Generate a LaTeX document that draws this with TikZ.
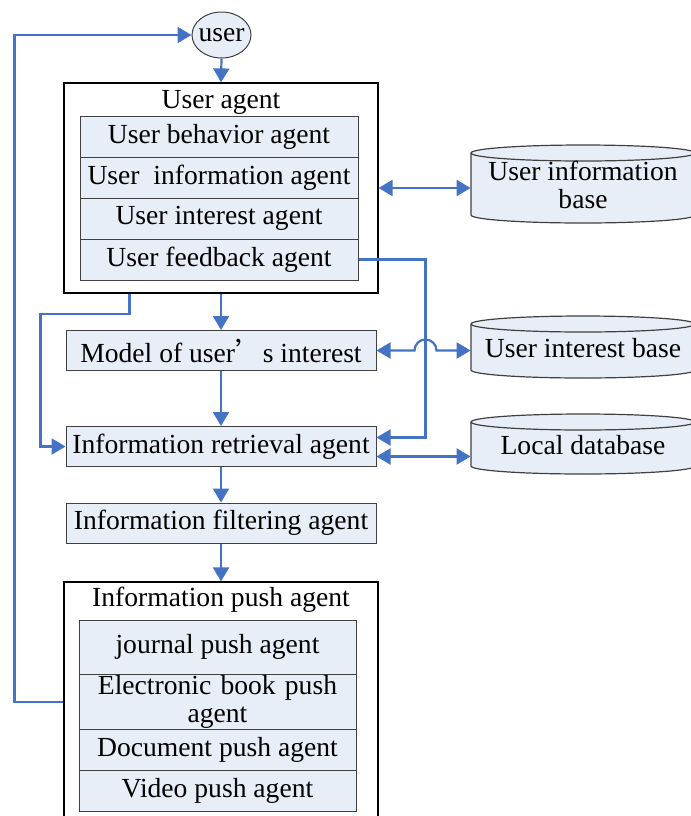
\documentclass[tikz,border=0pt]{standalone}
\usepackage{fontspec}
\setmainfont{Liberation Serif}
\newfontfamily\cjk{Noto Sans CJK SC}
\usetikzlibrary{shapes.geometric,arrows.meta}
\definecolor{linkblue}{RGB}{68,114,196}
\definecolor{boxfill}{RGB}{232,238,247}
\definecolor{boxline}{RGB}{64,64,64}
\tikzset{
  agent/.style={draw=boxline,fill=boxfill,line width=0.5pt,inner sep=0pt,minimum width=155pt,minimum height=20pt,align=center},
  subagent/.style={agent,minimum width=139pt,minimum height=20.5pt},
  frame/.style={draw=black,fill=white,line width=0.6pt,inner sep=0pt,minimum width=157pt},
  base/.style={inner sep=0pt,minimum width=112pt,align=center},
  link/.style={draw=linkblue,line width=1.1pt,>={Triangle[length=7pt,width=8pt]}},
}

\begin{document}
\begin{tikzpicture}[x=0.5pt,y=0.5pt]
\tikzstyle{every node}+=[font=\fontsize{13.8}{14}\selectfont]
\useasboundingbox (0,0) rectangle (691,-816);
\clip (0,0) rectangle (691,-816);
% databases on the right
\foreach \yt/\yb in {153/215,324/370,422/466} {
  \draw [boxline,fill=boxfill,line width=0.6pt] (471,-\yt) arc (180:0:112 and 8) -- (695,-\yb) arc (0:-180:112 and 8) -- cycle;
  \draw [boxline,line width=0.6pt] (471,-\yt) arc (180:360:112 and 8);
}
\node [base,minimum height=31pt] (uinfo) at (583,-185) {User information\\base};
\node [base,minimum height=23pt] (uint) at (583,-348) {User interest base};
\node [base,minimum height=22pt] (ldb) at (583,-445) {Local database};
% user and user agent
\node [ellipse,draw=boxline,fill=boxfill,line width=0.5pt,inner sep=0pt,inner xsep=-4pt,minimum width=29.5pt,minimum height=23pt] (user) at (221.5,-35) {user};
\node [frame,minimum height=105pt] (ua) at (221,-188) {};
\node (uatitle) at (221,-102) {User agent};
\node [subagent] (ubeh) at (219,-136.5) {User behavior agent};
\node [subagent] (uinfoa) at (219,-177.5) {User\ \ information agent};
\node [subagent] (uinta) at (219,-218.5) {User interest agent};
\node [subagent] (ufb) at (219,-259.5) {User feedback agent};
% middle chain
\node [agent] (model) at (221,-350.5) {Model of user{\cjk ’}s interest};
\node [agent] (ir) at (221,-446.5) {Information retrieval agent};
\node [agent] (filt) at (221,-523) {Information filtering agent};
% push agent
\node [frame,minimum height=120pt] (push) at (221,-702) {};
\node (pushtitle) at (221,-600) {Information push agent};
\node [subagent,minimum width=138.5pt,minimum height=27pt] (journal) at (217.5,-647) {journal push agent};
\node [subagent,minimum width=138.5pt,minimum height=27.5pt,text width=130pt] (ebook) at (217.5,-701.5) {Electronic book push\\agent};
\node [subagent,minimum width=138.5pt] (doc) at (217.5,-749.5) {Document push agent};
\node [subagent,minimum width=138.5pt] (video) at (217.5,-790.5) {Video push agent};
% connectors
\draw [link,->] (push.west) -- ++(-49,0) |- (user.west);
\draw [link,->] (user.south) -- (ua.north);
\draw [link,->] ([xshift=33pt]ua.south west) -- ++(0,-20) -| ([xshift=-12.5pt]ir.west) -- (ir.west);
\draw [link,->] (ua.south) -- (model.north);
\draw [link,->] (model.south) -- (ir.north);
\draw [link,->] (ir.south) -- (filt.north);
\draw [link,->] (filt.south) -- (push.north);
\draw [link,->] (ufb.east) -| ([xshift=24.5pt,yshift=4.5pt]ir.east) -- ([yshift=4.5pt]ir.east);
\draw [link,<->] (ua.east) -- (ua.east -| uinfo.west);
\draw [link,<->] (model.east) -- ++(38,0) arc (180:0:11) -- (model.east -| uint.west);
\draw [link,<->] ([yshift=-5pt]ir.east) -- ([yshift=-5pt]ir.east -| ldb.west);
\end{tikzpicture}
\end{document}
